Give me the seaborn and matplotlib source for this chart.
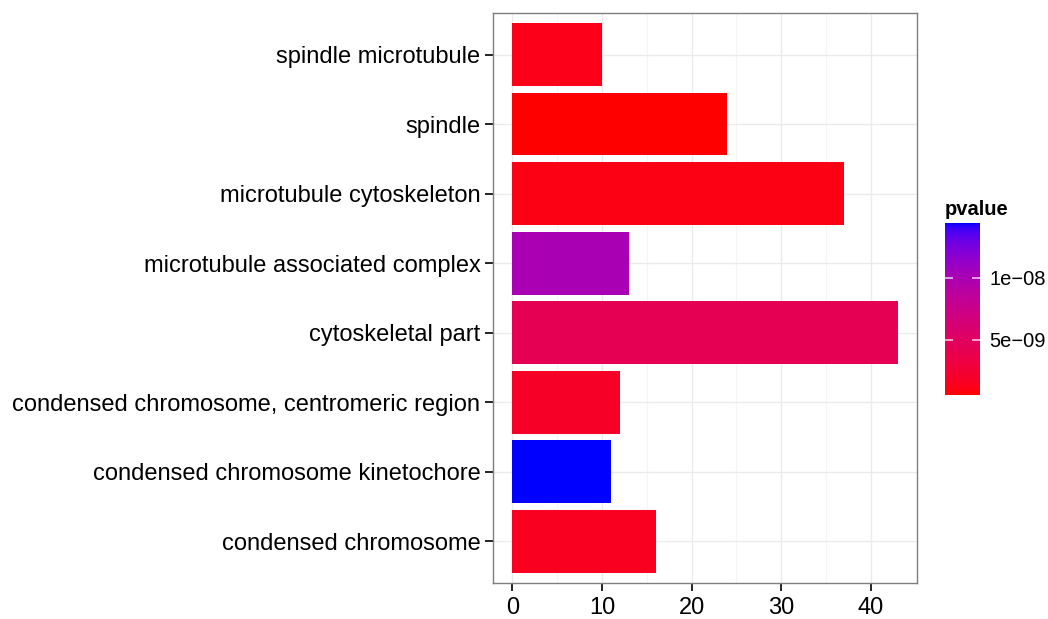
import numpy as np
import pandas as pd
import seaborn as sns
import matplotlib.pyplot as plt
from matplotlib.colors import ListedColormap, Normalize
from matplotlib.cm import ScalarMappable

# GO terms (top to bottom), gene counts and p-values
terms = [
    "spindle microtubule",
    "spindle",
    "microtubule cytoskeleton",
    "microtubule associated complex",
    "cytoskeletal part",
    "condensed chromosome, centromeric region",
    "condensed chromosome kinetochore",
    "condensed chromosome",
]
counts = [10, 24, 37, 13, 43, 12, 11, 16]
pvalues = [1.2e-9, 5.6e-10, 1.0e-9, 1.0e-8, 4.3e-9, 1.9e-9, 1.444e-8, 1.5e-9]
cbar_ticks = [5e-9, 1e-8]
cbar_labels = ["5e\u221209", "1e\u221208"]

df = pd.DataFrame({"term": terms, "count": counts, "pvalue": pvalues})


# red -> blue gradient interpolated in Lab space (like ggplot's scale_fill_gradient)
def lab_to_rgb(lab):
    L, a, b = lab[:, 0], lab[:, 1], lab[:, 2]
    fy = (L + 16) / 116
    fx = fy + a / 500
    fz = fy - b / 200

    def finv(t):
        return np.where(t > 6 / 29, t ** 3, 3 * (6 / 29) ** 2 * (t - 4 / 29))

    X = 0.95047 * finv(fx)
    Y = finv(fy)
    Z = 1.08883 * finv(fz)
    M = np.array([[3.2406, -1.5372, -0.4986],
                  [-0.9689, 1.8758, 0.0415],
                  [0.0557, -0.2040, 1.0570]])
    rgb = np.stack([X, Y, Z], axis=1) @ M.T
    rgb = np.clip(rgb, 0, 1)
    rgb = np.where(rgb <= 0.0031308, 12.92 * rgb, 1.055 * rgb ** (1 / 2.4) - 0.055)
    return np.clip(rgb, 0, 1)


red_lab = np.array([53.24, 80.09, 67.20])
blue_lab = np.array([32.30, 79.19, -107.86])
t = np.linspace(0, 1, 256)[:, None]
cmap = ListedColormap(lab_to_rgb(red_lab + t * (blue_lab - red_lab)))
norm = Normalize(vmin=min(pvalues), vmax=max(pvalues))

plt.rcParams["font.family"] = ["Liberation Sans", "DejaVu Sans"]

fig = plt.figure(figsize=(10.48, 6.19), dpi=100)
ax = fig.add_axes([0.4704, 0.0582, 0.4046, 0.9208])

sns.barplot(data=df, x="count", y="term", hue="pvalue", palette=cmap,
            hue_norm=norm, dodge=False, legend=False, width=0.9,
            saturation=1, ax=ax, zorder=3)

# theme_bw look
ax.set_facecolor("white")
ax.set_xlim(-2.15, 45.15)
ax.set_ylim(len(terms) - 1 + 0.6, -0.6)
ax.set_xticks([0, 10, 20, 30, 40])
ax.set_xticks([5, 15, 25, 35], minor=True)
ax.grid(True, which="major", color="#EBEBEB", linewidth=1.0, zorder=0)
ax.grid(True, which="minor", axis="x", color="#F5F5F5", linewidth=0.8, zorder=0)
ax.set_axisbelow(True)
for s in ax.spines.values():
    s.set_color("#7F7F7F")
    s.set_linewidth(1.0)
ax.tick_params(axis="both", which="major", length=6, width=1.2, color="black",
               labelsize=17, labelcolor="black", pad=3)
ax.tick_params(axis="x", which="major", pad=4)
ax.tick_params(axis="x", which="minor", length=0)
ax.set_xlabel("")
ax.set_ylabel("")

# colour bar legend
cax = fig.add_axes([0.9017, 0.3619, 0.0334, 0.2779])
sm = ScalarMappable(norm=norm, cmap=cmap)
cb = fig.colorbar(sm, cax=cax)
cb.outline.set_visible(False)
cb.set_ticks(cbar_ticks)
cb.set_ticklabels(cbar_labels)
cax.tick_params(axis="y", direction="in", length=6, width=1.2,
                color=(1, 1, 1, 0.75), left=True, right=True,
                labelsize=14.5, pad=7)
cax.set_title("pvalue", loc="left", fontsize=14.5, fontweight="bold", pad=6, x=0.0)

fig.savefig("out.png", dpi=100)
